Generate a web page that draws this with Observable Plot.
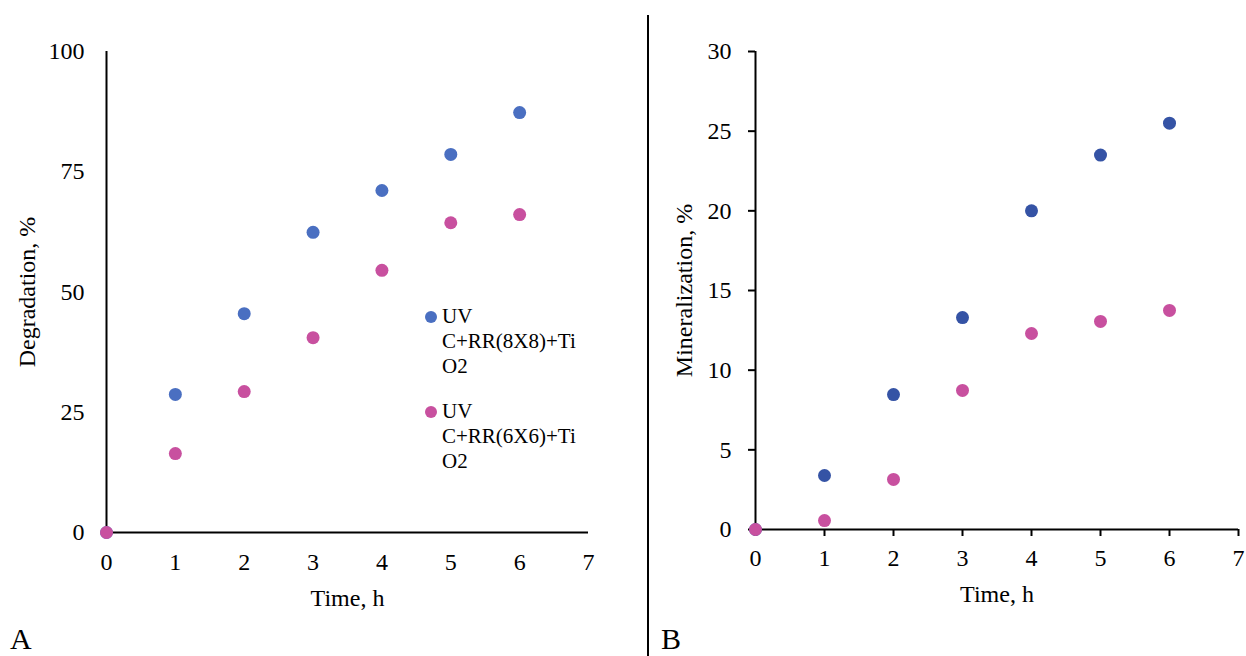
<!DOCTYPE html>
<html>
<head>
<meta charset="utf-8">
<script src="https://cdn.jsdelivr.net/npm/d3@7"></script>
<script src="https://cdn.jsdelivr.net/npm/@observablehq/plot@0.6"></script>
<style>
  html, body { margin: 0; padding: 0; background: #fff; }
  #wrap { position: relative; width: 1246px; height: 656px; overflow: hidden; font-family: "Liberation Serif", serif; color: #000; }
  #left { position: absolute; left: 0; top: 0; }
  #right { position: absolute; left: 648px; top: 0; }
  #divider { position: absolute; left: 647px; top: 15px; width: 2px; height: 641px; background: #000; }
  .panel-tag { position: absolute; font-size: 30px; line-height: 30px; }
  #legend { position: absolute; left: 424px; top: 304px; font-size: 21px; line-height: 25px; }
  .entry { position: relative; padding-left: 18px; margin-bottom: 20px; }
  .entry .sw { position: absolute; left: 1px; top: 7px; width: 12px; height: 12px; border-radius: 50%; }
</style>
</head>
<body>
<div id="wrap">
  <div id="left"></div>
  <div id="divider"></div>
  <div id="right"></div>
  <div id="legend"></div>
  <div class="panel-tag" style="left:10px; top:624px;">A</div>
  <div class="panel-tag" style="left:661px; top:624px;">B</div>
</div>
<script>
const hours = [0, 1, 2, 3, 4, 5, 6];
const seriesNames = ["UV C+RR(8X8)+TiO2", "UV C+RR(6X6)+TiO2"];
const legendLines = [["UV", "C+RR(8X8)+Ti", "O2"], ["UV", "C+RR(6X6)+Ti", "O2"]];
const degradation8 = [0, 28.7, 45.5, 62.4, 71.1, 78.6, 87.3];
const degradation6 = [0, 16.4, 29.3, 40.5, 54.5, 64.4, 66.1];
const mineralization8 = [0, 3.39, 8.47, 13.3, 20.0, 23.5, 25.5];
const mineralization6 = [0, 0.56, 3.14, 8.73, 12.3, 13.06, 13.75];
const xTicks = [0, 1, 2, 3, 4, 5, 6, 7];
const degTicks = [0, 25, 50, 75, 100];
const minTicks = [0, 5, 10, 15, 20, 25, 30];

const leftColors = ["#4A6FC1", "#C8509F"];
const rightColors = ["#3553A5", "#C8509F"];

function rows(a, b) {
  return [
    ...hours.map((h, i) => ({x: h, y: a[i], s: seriesNames[0]})),
    ...hours.map((h, i) => ({x: h, y: b[i], s: seriesNames[1]}))
  ];
}

const style = {fontFamily: "Liberation Serif", fontSize: "24px", color: "#000", background: "transparent", overflow: "visible"};

const left = Plot.plot({
  width: 648, height: 656,
  marginLeft: 106, marginRight: 60, marginTop: 51, marginBottom: 124,
  style,
  x: {domain: [0, 7]},
  y: {domain: [0, 100]},
  color: {domain: seriesNames, range: leftColors},
  marks: [
    Plot.axisX({ticks: xTicks, tickSize: 0, tickPadding: 20, tickFormat: d => d, label: "Time, h", labelAnchor: "center", labelArrow: "none", labelOffset: 73}),
    Plot.axisY({ticks: degTicks, tickSize: 0, tickPadding: 22, tickFormat: d => d, label: "Degradation, %", labelAnchor: "center", labelArrow: "none", labelOffset: 89}),
    Plot.ruleY([0], {stroke: "#000", strokeWidth: 2}),
    Plot.ruleX([0], {stroke: "#000", strokeWidth: 2}),
    Plot.dot(rows(degradation8, degradation6), {x: "x", y: "y", fill: "s", r: 6.5})
  ]
});
document.getElementById("left").append(left);

const right = Plot.plot({
  width: 598, height: 656,
  marginLeft: 107, marginRight: 8, marginTop: 51, marginBottom: 127,
  style,
  x: {domain: [0, 7]},
  y: {domain: [0, 30]},
  color: {domain: seriesNames, range: rightColors},
  marks: [
    Plot.axisX({ticks: xTicks, tickSize: 7, strokeWidth: 2, tickPadding: 12, tickFormat: d => d, label: "Time, h", labelAnchor: "center", labelArrow: "none", labelOffset: 72}),
    Plot.axisY({ticks: minTicks, tickSize: 7, strokeWidth: 2, tickPadding: 17, tickFormat: d => d, label: "Mineralization, %", labelAnchor: "center", labelArrow: "none", labelOffset: 81}),
    Plot.ruleY([0], {stroke: "#000", strokeWidth: 2}),
    Plot.ruleX([0], {stroke: "#000", strokeWidth: 2}),
    Plot.dot(rows(mineralization8, mineralization6), {x: "x", y: "y", fill: "s", r: 6.5})
  ]
});
document.getElementById("right").append(right);

const legend = document.getElementById("legend");
legendLines.forEach((lines, i) => {
  const e = document.createElement("div");
  e.className = "entry";
  const sw = document.createElement("span");
  sw.className = "sw";
  sw.style.background = leftColors[i];
  e.append(sw);
  lines.forEach(t => { const d = document.createElement("div"); d.textContent = t; e.append(d); });
  legend.append(e);
});
</script>
</body>
</html>
